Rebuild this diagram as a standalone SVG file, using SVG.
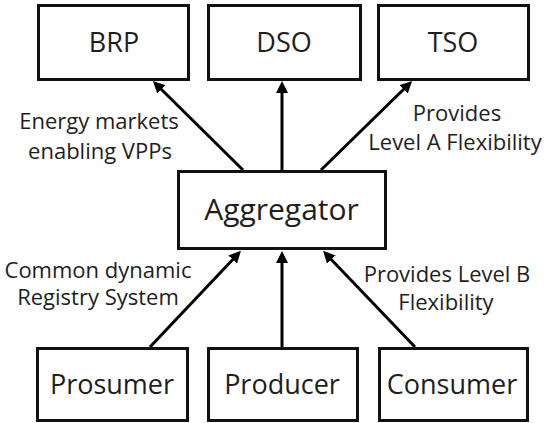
<svg xmlns="http://www.w3.org/2000/svg" width="545" height="423" viewBox="0 0 545 423">
<style>
.box{fill:#fff;stroke:#111;stroke-width:3}
.t{font-family:"Open Sans","Liberation Sans",sans-serif;fill:#1e1e1e;text-anchor:middle}
.big{font-size:27px}
.agg{font-size:30px}
.lbl{font-size:22px}
.c{stroke:#000;stroke-width:3;fill:none;marker-end:url(#ah)}
</style>
<defs>
<marker id="ah" viewBox="0 0 10 10" markerWidth="4" markerHeight="4" refX="5" refY="5" orient="auto" markerUnits="strokeWidth">
<path d="M0,0 L10,5 L0,10 z" fill="#000"/>
</marker>
</defs>
<rect width="545" height="423" fill="#fff"/>
<g id="connectors">
<line class="c" x1="243" y1="170" x2="157.2" y2="85.2"/>
<line class="c" x1="282" y1="170" x2="282" y2="87"/>
<line class="c" x1="321" y1="170" x2="407.8" y2="85.2"/>
<line class="c" x1="150" y1="347" x2="236.8" y2="255.2"/>
<line class="c" x1="282" y1="347" x2="282" y2="257"/>
<line class="c" x1="415" y1="347" x2="327.2" y2="255.2"/>
</g>
<g id="brp"><rect class="box" x="38.5" y="5.5" width="150" height="74"/><text class="t big" x="114" y="52">BRP</text></g>
<g id="dso"><rect class="box" x="208.5" y="5.5" width="152" height="74"/><text class="t big" x="284" y="52">DSO</text></g>
<g id="tso"><rect class="box" x="378.5" y="5.5" width="150" height="74"/><text class="t big" x="453" y="52">TSO</text></g>
<g id="aggregator"><rect class="box" x="178.5" y="171.5" width="207" height="77"/><text class="t agg" x="281.5" y="220">Aggregator</text></g>
<g id="prosumer"><rect class="box" x="37.5" y="348.5" width="150" height="72"/><text class="t big" x="112" y="394">Prosumer</text></g>
<g id="producer"><rect class="box" x="208.5" y="348.5" width="149" height="72"/><text class="t big" x="282" y="394">Producer</text></g>
<g id="consumer"><rect class="box" x="379.5" y="348.5" width="148" height="72"/><text class="t big" x="452" y="394">Consumer</text></g>
<g id="labels">
<text class="t lbl" x="99" y="129">Energy markets</text>
<text class="t lbl" x="100" y="159">enabling VPPs</text>
<text class="t lbl" x="457" y="121">Provides</text>
<text class="t lbl" x="455" y="150">Level A Flexibility</text>
<text class="t lbl" x="98" y="278">Common dynamic</text>
<text class="t lbl" x="98" y="305">Registry System</text>
<text class="t lbl" x="447" y="282">Provides Level B</text>
<text class="t lbl" x="446" y="310">Flexibility</text>
</g>
</svg>
